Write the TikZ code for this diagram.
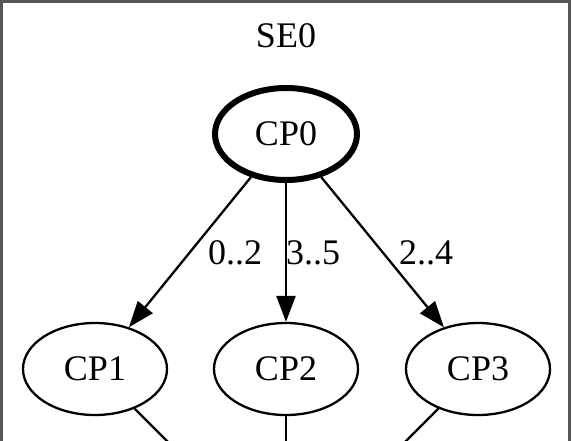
\documentclass[tikz,border=0pt]{standalone}
\usepackage{fontspec}
\setmainfont{Liberation Serif}
\usetikzlibrary{arrows.meta,shapes.geometric}
\definecolor{framegray}{RGB}{85,85,85}
\tikzset{
  cpnode/.style={ellipse, draw=black, line width=2.3pt, minimum width=144pt, minimum height=92pt, inner sep=0pt, font=\fontsize{36}{40}\selectfont},
  rootnode/.style={cpnode, line width=6pt, minimum width=142pt, minimum height=92pt},
  edgelab/.style={font=\fontsize{36}{40}\selectfont, inner sep=0pt},
  conn/.style={line width=2.3pt, draw=black},
  arr/.style={conn, -{Triangle[length=26pt,width=19pt]}},
  titlelab/.style={font=\fontsize{36}{40}\selectfont, inner sep=0pt}
}
\begin{document}
\begin{tikzpicture}[x=1pt,y=-1pt]
\useasboundingbox (0,0) rectangle (572,440);
\clip (0,0) rectangle (572,440);
\fill[white] (0,0) rectangle (572,440);
\draw[framegray, line width=3pt] (1.5,1.5) rectangle (569.5,470);
\node[titlelab] (se0) at (286,36) {SE0};
\node[rootnode] (cp0) at (286,134) {CP0};
\node[cpnode] (cp1) at (95,369) {CP1};
\node[cpnode] (cp2) at (286,369) {CP2};
\node[cpnode] (cp3) at (478,369) {CP3};
\draw[arr] (cp0) -- (cp1);
\draw[arr] (cp0) -- (cp2);
\draw[arr] (cp0) -- (cp3);
\node[edgelab] (l1) at (235,253) {0..2};
\node[edgelab] (l2) at (313,253) {3..5};
\node[edgelab] (l3) at (426,253) {2..4};
\coordinate (d1) at (245,519);
\coordinate (d2) at (286,519);
\coordinate (d3) at (328,519);
\draw[conn] (cp1) -- (d1);
\draw[conn] (cp2) -- (d2);
\draw[conn] (cp3) -- (d3);
\end{tikzpicture}
\end{document}
